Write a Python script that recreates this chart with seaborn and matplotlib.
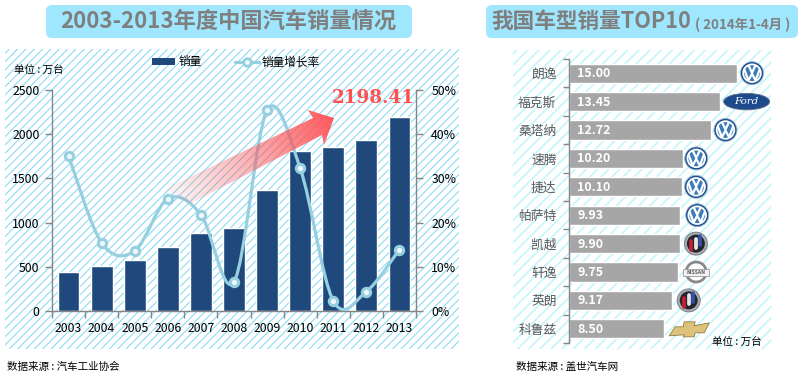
import numpy as np
import matplotlib
matplotlib.use("Agg")
import matplotlib.pyplot as plt
import seaborn as sns
from matplotlib.patches import Rectangle, FancyBboxPatch, PathPatch, Circle, Ellipse, Polygon, Patch
from matplotlib.path import Path
from matplotlib.lines import Line2D

years = ["2003", "2004", "2005", "2006", "2007", "2008", "2009", "2010", "2011", "2012", "2013"]
sales = [439, 507, 576, 722, 879, 938, 1364, 1806, 1851, 1931, 2198.41]
growth = [35.1, 15.4, 13.6, 25.4, 21.8, 6.6, 45.4, 32.3, 2.3, 4.4, 13.9]
models = ["朗逸", "福克斯", "桑塔纳", "速腾", "捷达", "帕萨特", "凯越", "轩逸", "英朗", "科鲁兹"]
model_sales = [15.00, 13.45, 12.72, 10.20, 10.10, 9.93, 9.90, 9.75, 9.17, 8.50]
brands = ["vw", "ford", "vw", "vw", "vw", "vw", "buick", "nissan", "buick", "chevy"]
logo_offsets = [15, 27, 14, 13, 14, 17, 16, 18, 17, 25]

sns.set_theme(style="white")
plt.rcParams["font.family"] = ["Noto Sans CJK SC", "DejaVu Sans"]
plt.rcParams["axes.unicode_minus"] = False
W, H = 802, 376
BLUE, LINE, GREY, AX = "#1f497d", "#96cfe0", "#a6a6a6", "#868686"

fig = plt.figure(figsize=(W / 100, H / 100), dpi=100, facecolor="white")

def box(x0, y0, x1, y1):
    return [x0 / W, 1 - y1 / H, (x1 - x0) / W, (y1 - y0) / H]

bg = fig.add_axes([0, 0, 1, 1], zorder=0)
bg.set_xlim(0, W); bg.set_ylim(H, 0); bg.axis("off")

plt.rcParams["hatch.linewidth"] = 0.75
bg.add_patch(Rectangle((5, 49), 454, 300, fc="white", ec="#86d9f5", hatch="////", lw=0))
plt.rcParams["hatch.linewidth"] = 1.3
bg.add_patch(Rectangle((513, 50), 258, 299, fc="white", ec="#c9f6fb", hatch="///", lw=0))

for x0, x1 in [(46, 412), (486, 798)]:
    bg.add_patch(FancyBboxPatch((x0 + 5, 10), x1 - x0 - 10, 23,
                                boxstyle="round,pad=5,rounding_size=6", fc="#9fe6ff", ec="none"))
bg.text(228, 21.5, "2003-2013年度中国汽车销量情况", color="#7f7f7f", fontsize=16,
        fontweight="bold", ha="center", va="center")
bg.text(491, 21.5, "我国车型销量TOP10", color="#7f7f7f", fontsize=15.6,
        fontweight="bold", ha="left", va="center")
bg.text(695, 25, "( 2014年1-4月 )", color="#7f7f7f", fontsize=9.6,
        fontweight="bold", ha="left", va="center")
bg.text(14, 70, "单位 : 万台", color="black", fontsize=7.6, ha="left", va="center")
bg.text(7, 367, "数据来源 : 汽车工业协会", color="black", fontsize=7.6, ha="left", va="center")
bg.text(516, 367, "数据来源 : 盖世汽车网", color="black", fontsize=7.6, ha="left", va="center")

# left chart
ax = fig.add_axes(box(52, 90, 416, 311), zorder=1)
ax.patch.set_alpha(0)
sns.barplot(x=years, y=sales, color=BLUE, saturation=1, width=0.66, ax=ax)
ax.set_xlim(-0.5, 10.5); ax.set_ylim(0, 2500)
ax.set_yticks(range(0, 2501, 500))
ax.set_xlabel(""); ax.set_ylabel("")
ax.set_xticks(np.arange(-0.5, 11, 1), minor=True)
ax.tick_params(axis="x", which="minor", length=5, color=AX, width=1, bottom=True)
ax.tick_params(axis="x", which="major", length=0, pad=8, labelsize=8.8, colors="black")
ax.tick_params(axis="y", length=5, color=AX, width=1, pad=4, labelsize=8.8, left=True, colors="black")
for s in ["top", "right"]:
    ax.spines[s].set_visible(False)
for s in ["left", "bottom"]:
    ax.spines[s].set_color(AX); ax.spines[s].set_linewidth(1)

ax2 = ax.twinx()
ax2.patch.set_alpha(0)
ax2.set_xlim(-0.5, 10.5); ax2.set_ylim(0, 50)
ax2.set_yticks(range(0, 51, 10))
ax2.set_yticklabels([f"{v}%" for v in range(0, 51, 10)])
ax2.tick_params(axis="y", length=5, color=AX, width=1, pad=6, labelsize=8.8, right=True, colors="black")
ax2.grid(False)
for s in ["top", "left", "bottom"]:
    ax2.spines[s].set_visible(False)
ax2.spines["right"].set_color(AX); ax2.spines["right"].set_linewidth(1)

pts = np.column_stack([np.arange(len(growth), dtype=float), growth])
verts, codes = [pts[0]], [Path.MOVETO]
for i in range(len(pts) - 1):
    p0 = pts[max(i - 1, 0)]; p1 = pts[i]; p2 = pts[i + 1]; p3 = pts[min(i + 2, len(pts) - 1)]
    verts += [p1 + (p2 - p0) / 6, p2 - (p3 - p1) / 6, p2]
    codes += [Path.CURVE4] * 3
ax2.add_patch(PathPatch(Path(verts, codes), fc="none", ec=LINE, lw=2.3, capstyle="round"))
sns.lineplot(x=pts[:, 0], y=growth, linestyle="", marker="o", markersize=6, markeredgewidth=2.2,
             markeredgecolor=LINE, markerfacecolor="#eef8fb", ax=ax2, legend=False, errorbar=None,
             sort=False, clip_on=False)
ax2.set_xlabel(""); ax2.set_ylabel("")
ax2.set_xlim(-0.5, 10.5); ax2.set_ylim(0, 50)

handles = [Patch(fc=BLUE, ec="none", label="销量"),
           Line2D([0], [0], color=LINE, lw=2.3, marker="o", ms=5.5, mew=2, mec=LINE, mfc="#eef8fb", label="销量增长率")]
leg = fig.legend(handles=handles, loc="center", bbox_to_anchor=(236 / W, 1 - 62 / H), ncol=2, frameon=False,
                 fontsize=8.4, labelcolor="black", handlelength=2.0, handleheight=0.5, columnspacing=2.9,
                 handletextpad=0.25)
leg.set_zorder(5)

# right chart
ar = fig.add_axes(box(569, 59, 771, 343), zorder=1)
ar.patch.set_alpha(0)
sns.barplot(y=models, x=model_sales, color=GREY, saturation=1, width=0.67, orient="h", ax=ar)
ar.set_xlim(0, 202 / 11.2); ar.set_ylim(9.5, -0.5)
ar.set_xlabel(""); ar.set_ylabel("")
ar.set_xticks([])
ar.set_yticks(np.arange(-0.5, 10, 1), minor=True)
ar.tick_params(axis="y", which="minor", length=4, color=AX, width=1, left=True)
ar.tick_params(axis="y", which="major", length=0, pad=9, labelsize=9.2, colors="#595959")
for s in ["top", "right", "bottom"]:
    ar.spines[s].set_visible(False)
ar.spines["left"].set_color(AX); ar.spines["left"].set_linewidth(1)
for i, v in enumerate(model_sales):
    ar.text(0.75, i + 0.02, f"{v:.2f}", color="white", fontsize=9, fontweight="bold", ha="left", va="center")

# overlay
ov = fig.add_axes([0, 0, 1, 1], zorder=4)
ov.set_xlim(0, W); ov.set_ylim(H, 0); ov.axis("off"); ov.patch.set_alpha(0)

arrow = [(165, 189), (313, 118), (308, 110), (334, 118), (324, 145), (322, 135), (190, 204)]
poly = Polygon(arrow, closed=True, fc="none", ec="none")
ov.add_patch(poly)
gx, gy = np.meshgrid(np.linspace(150, 340, 190), np.linspace(100, 215, 115))
t = np.clip(((gx - 165) * 169 + (gy - 200) * (-83)) / (169 ** 2 + 83 ** 2), 0, 1)
rgba = np.zeros(gx.shape + (4,))
rgba[..., 0] = 1.0; rgba[..., 1] = 0.32; rgba[..., 2] = 0.33
rgba[..., 3] = 0.06 + 0.9 * t ** 1.2
im = ov.imshow(rgba, extent=(150, 340, 215, 100), aspect="auto", interpolation="bilinear", zorder=2)
im.set_clip_path(poly)
ov.set_xlim(0, W); ov.set_ylim(H, 0)

ov.text(373, 98, "2198.41", color="#ff5050", fontsize=13.2, fontweight="bold", family="DejaVu Serif",
        ha="center", va="center", zorder=3)
ov.text(712, 342, "单位 : 万台", color="black", fontsize=7.6, ha="left", va="center", zorder=3)

def vw(x, y):
    ov.add_patch(Circle((x, y), 11.5, fc="#1c4f8e", ec="#9ab7d2", lw=0.6, zorder=3))
    ov.add_patch(Circle((x, y), 8.8, fc="#3d7cb8", ec="white", lw=1.3, zorder=3))
    ov.plot([x - 3.4, x, x + 3.4], [y - 7.6, y - 0.5, y - 7.6], color="white", lw=1.6, zorder=4, solid_joinstyle="miter")
    ov.plot([x - 7.6, x - 3.6, x, x + 3.6, x + 7.6], [y - 3.5, y + 7.2, y + 0.5, y + 7.2, y - 3.5], color="white", lw=1.6, zorder=4, solid_joinstyle="miter")

def buick(x, y):
    ov.add_patch(Circle((x, y), 11.5, fc="#a9adb2", ec="#70757a", lw=0.6, zorder=3))
    ov.add_patch(Circle((x, y), 9, fc="#23262d", ec="none", zorder=3))
    for dx, c in [(-4.5, "#c32032"), (0, "#e8e8e8"), (4.5, "#3552a8")]:
        ov.plot([x + dx, x + dx], [y - 5 - dx * 0.6, y + 4 - dx * 0.6], color=c, lw=2.7, zorder=4)

def nissan(x, y):
    ov.add_patch(Circle((x, y), 10, fc="white", ec="#8a8a8a", lw=2.0, zorder=3))
    ov.add_patch(Rectangle((x - 13, y - 3.5), 26, 7, fc="#f2f2f2", ec="#9a9a9a", lw=0.6, zorder=4))
    ov.text(x, y, "NISSAN", color="#555555", fontsize=3.6, fontweight="bold", ha="center", va="center", zorder=5)

def ford(x, y):
    ov.add_patch(Ellipse((x, y), 46, 16.5, fc="#1d4a8c", ec="#5d6f8c", lw=0.6, zorder=3))
    ov.text(x, y, "Ford", color="white", fontsize=7.4, style="italic", family="DejaVu Serif", ha="center", va="center", zorder=4)

def chevy(x, y):
    shape = [(x - 20, y + 7), (x - 14, y - 2), (x - 6, y - 2), (x - 5, y - 7), (x + 6, y - 7), (x + 5, y - 3),
             (x + 20, y - 6), (x + 15, y + 4), (x + 6, y + 4), (x + 5, y + 8), (x - 6, y + 8), (x - 5, y + 6)]
    ov.add_patch(Polygon(shape, closed=True, fc="#dcc27a", ec="#8f7b45", lw=0.6, zorder=3))

fig.canvas.draw()
drawers = {"vw": vw, "buick": buick, "nissan": nissan, "ford": ford, "chevy": chevy}
for i, (v, b, off) in enumerate(zip(model_sales, brands, logo_offsets)):
    px, py = ar.transData.transform((v, i))
    drawers[b](px + off, H - py)
ov.set_xlim(0, W); ov.set_ylim(H, 0)

fig.savefig("out.png", dpi=100, facecolor="white")
